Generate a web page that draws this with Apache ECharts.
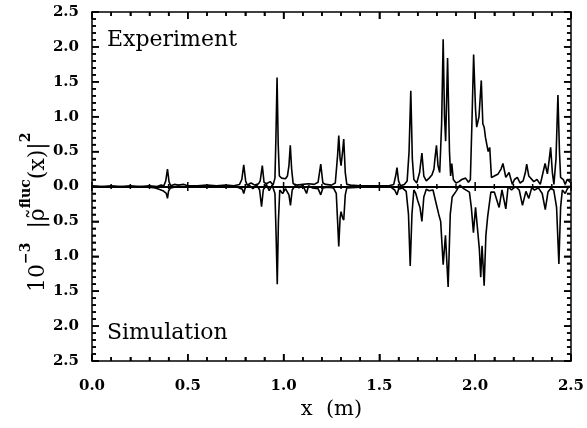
<!DOCTYPE html>
<html>
<head>
<meta charset="utf-8">
<script src="https://cdn.jsdelivr.net/npm/echarts@6/dist/echarts.min.js"></script>
<style>html,body{margin:0;padding:0;background:#fff}#c{width:587px;height:428px}</style>
</head>
<body>
<div id="c"></div>
<script>
// Experiment curve (upper half)
const expX = [0.00,0.05,0.10,0.15,0.20,0.25,0.30,0.34,0.36,0.375,0.385,0.394,0.402,0.41,0.43,0.45,0.48,0.50,0.55,0.60,0.65,0.70,0.74,0.77,0.782,0.792,0.802,0.81,0.83,0.85,0.87,0.878,0.889,0.898,0.91,0.93,0.945,0.955,0.960,0.966,0.972,0.978,0.99,1.00,1.01,1.02,1.028,1.035,1.042,1.05,1.07,1.10,1.13,1.16,1.18,1.194,1.205,1.22,1.25,1.27,1.282,1.288,1.295,1.30,1.308,1.314,1.322,1.33,1.35,1.40,1.45,1.50,1.55,1.575,1.585,1.592,1.60,1.61,1.63,1.645,1.655,1.664,1.672,1.68,1.695,1.71,1.722,1.732,1.745,1.76,1.775,1.785,1.79,1.798,1.806,1.815,1.825,1.833,1.84,1.846,1.856,1.866,1.872,1.878,1.886,1.90,1.915,1.93,1.95,1.965,1.975,1.983,1.992,2.002,2.008,2.02,2.032,2.04,2.047,2.054,2.06,2.068,2.076,2.085,2.10,2.12,2.135,2.145,2.16,2.177,2.194,2.205,2.22,2.235,2.25,2.262,2.269,2.28,2.29,2.306,2.323,2.34,2.35,2.365,2.377,2.385,2.394,2.403,2.411,2.422,2.432,2.44,2.446,2.46,2.47,2.48,2.49,2.50];
const expY = [0.01,0.00,0.01,0.00,0.01,0.00,0.01,0.00,0.02,0.01,0.08,0.25,0.07,0.01,0.03,0.02,0.03,0.01,0.01,0.02,0.01,0.02,0.01,0.03,0.10,0.31,0.08,0.02,0.05,0.02,0.04,0.08,0.30,0.06,0.04,0.07,0.02,0.12,0.70,1.56,0.60,0.15,0.12,0.14,0.11,0.15,0.30,0.59,0.25,0.04,0.02,0.03,0.04,0.03,0.06,0.32,0.05,0.03,0.02,0.05,0.45,0.73,0.40,0.30,0.50,0.68,0.20,0.03,0.02,0.01,0.01,0.01,0.01,0.03,0.15,0.27,0.08,0.01,0.03,0.08,0.50,1.37,0.40,0.10,0.05,0.20,0.48,0.15,0.08,0.12,0.17,0.25,0.40,0.59,0.30,0.20,0.90,2.11,1.00,0.65,1.84,0.50,0.15,0.33,0.10,0.05,0.07,0.10,0.12,0.06,0.10,0.90,1.89,1.10,0.85,1.00,1.52,0.90,0.85,0.70,0.72,0.50,0.56,0.13,0.15,0.18,0.25,0.33,0.13,0.20,0.03,0.10,0.13,0.05,0.08,0.20,0.32,0.15,0.13,0.07,0.10,0.03,0.15,0.33,0.18,0.35,0.56,0.20,0.03,0.40,1.31,0.50,0.13,0.10,0.03,0.10,0.08,0.05];
// Simulation curve (lower half, plotted negative)
const simX = [0.00,0.05,0.10,0.15,0.20,0.25,0.30,0.33,0.35,0.37,0.38,0.388,0.394,0.40,0.41,0.43,0.50,0.60,0.70,0.76,0.785,0.792,0.80,0.82,0.84,0.86,0.875,0.885,0.894,0.91,0.925,0.94,0.955,0.961,0.967,0.973,0.98,0.995,1.01,1.028,1.036,1.045,1.06,1.08,1.10,1.12,1.13,1.15,1.18,1.194,1.205,1.23,1.26,1.275,1.282,1.288,1.295,1.30,1.308,1.314,1.322,1.33,1.40,1.50,1.56,1.58,1.592,1.60,1.62,1.64,1.652,1.661,1.67,1.68,1.69,1.70,1.712,1.722,1.732,1.745,1.76,1.78,1.797,1.81,1.82,1.833,1.845,1.859,1.87,1.88,1.90,1.92,1.94,1.97,1.98,1.991,2.002,2.012,2.022,2.029,2.036,2.047,2.056,2.065,2.072,2.082,2.10,2.125,2.14,2.16,2.172,2.19,2.21,2.23,2.247,2.265,2.28,2.295,2.31,2.33,2.35,2.366,2.38,2.394,2.41,2.425,2.437,2.446,2.455,2.47,2.48,2.49,2.50];
const simY = [-0.01,0.00,-0.01,0.00,-0.01,0.00,-0.01,-0.02,-0.04,-0.06,-0.05,-0.10,-0.17,-0.06,-0.02,-0.01,0.00,-0.01,0.00,-0.01,-0.04,-0.10,-0.02,0.02,-0.03,0.02,-0.05,-0.29,-0.05,0.03,-0.06,0.02,-0.10,-0.70,-1.40,-0.50,-0.05,-0.10,-0.03,-0.12,-0.27,-0.05,0.01,-0.02,0.02,-0.10,0.01,-0.02,-0.03,-0.12,-0.02,-0.01,-0.02,-0.10,-0.50,-0.86,-0.45,-0.36,-0.45,-0.48,-0.12,-0.02,-0.01,0.00,-0.01,-0.05,-0.12,-0.04,-0.02,-0.07,-0.40,-1.14,-0.40,-0.05,-0.10,-0.20,-0.30,-0.50,-0.15,-0.04,-0.06,-0.05,-0.25,-0.40,-0.50,-1.12,-0.70,-1.44,-0.40,-0.15,-0.07,0.02,-0.03,-0.08,-0.30,-0.66,-0.30,-0.30,-0.90,-1.30,-0.85,-1.42,-0.70,-0.44,-0.44,-0.08,-0.08,-0.30,-0.05,-0.32,0.00,-0.05,0.00,-0.05,-0.27,-0.07,-0.17,-0.02,-0.05,-0.02,-0.10,-0.33,-0.08,-0.03,-0.05,-0.30,-1.11,-0.30,-0.05,-0.10,-0.04,0.00,-0.02];
const xTicks = [0.0, 0.5, 1.0, 1.5, 2.0, 2.5];
const yTicks = [-2.5,-2.0,-1.5,-1.0,-0.5,0.0,0.5,1.0,1.5,2.0,2.5];

const FONT = '"DejaVu Serif", "Liberation Serif", serif';
const LINE = '#000000';
const xMin = xTicks[0], xMax = xTicks[xTicks.length - 1];
const yMin = yTicks[0], yMax = yTicks[yTicks.length - 1];
const expData = expX.map((x, i) => [x, expY[i]]);
const simData = simX.map((x, i) => [x, simY[i]]);

// tick values: majors from the tick arrays, 4 minors between each pair
function tickValues(ticks) {
  const out = [];
  for (let i = 0; i < ticks.length - 1; i++) {
    for (let k = 0; k < 5; k++) {
      out.push({ v: +(ticks[i] + (ticks[i + 1] - ticks[i]) * k / 5).toFixed(3), major: k === 0 });
    }
  }
  out.push({ v: ticks[ticks.length - 1], major: true });
  return out;
}

function frameAxis(pos, isY, lab) {
  const o = {
    type: 'value', min: isY ? yMin : xMin, max: isY ? yMax : xMax,
    interval: 0.5, position: pos,
    axisLine: { show: true, onZero: false, lineStyle: { color: LINE, width: 1.5 } },
    axisTick: { show: true, inside: true, length: 7, lineStyle: { color: LINE, width: 1.5 } },
    minorTick: { show: true, splitNumber: 5, length: 4, lineStyle: { color: LINE, width: 1.5 } },
    splitLine: { show: false }
  };
  o.axisLabel = lab
    ? { show: true, margin: isY ? 13 : 18, color: LINE, fontFamily: FONT, fontSize: 15, fontWeight: 'bold',
        formatter: v => Math.abs(v).toFixed(1) }
    : { show: false };
  return o;
}
const zeroAxis = {
  type: 'value', min: xMin, max: xMax, interval: 0.5, position: 'bottom',
  axisLine: { show: true, onZero: true, onZeroAxisIndex: 0, lineStyle: { color: LINE, width: 2 } },
  axisTick: { show: false }, axisLabel: { show: false }, splitLine: { show: false }
};

const xa0 = frameAxis('bottom', false, true);
xa0.name = 'x  (m)';
xa0.nameLocation = 'middle';
xa0.nameGap = 34;
xa0.nameTextStyle = { color: LINE, fontFamily: FONT, fontSize: 21 };

const textGraphics = [
  { id: 't1', type: 'text', left: 107, top: 29, style: { text: 'Experiment', font: '22px ' + FONT, fill: LINE } },
  { id: 't2', type: 'text', left: 107, top: 322, style: { text: 'Simulation', font: '22px ' + FONT, fill: LINE } },
  { id: 't3', type: 'text', x: 19, y: 292, rotation: Math.PI / 2,
    style: {
      text: '{a|10}{s|−3}{a|  |}{a|ρ̃}{s|fluc}{a|(x)|}{s|2}',
      fill: LINE,
      rich: {
        a: { fontFamily: FONT, fontSize: 22, fill: LINE, lineHeight: 30, verticalAlign: 'bottom' },
        s: { fontFamily: FONT, fontSize: 14, fill: LINE, fontWeight: 'bold', lineHeight: 30, verticalAlign: 'top' }
      }
    } }
];

const chart = echarts.init(document.getElementById('c'));
chart.setOption({
  animation: false,
  grid: { left: 92, right: 15, top: 12, bottom: 67 },
  xAxis: [xa0, frameAxis('top', false, false), zeroAxis],
  yAxis: [frameAxis('left', true, true), frameAxis('right', true, false)],
  series: [
    { name: 'Experiment', type: 'line', xAxisIndex: 0, yAxisIndex: 0, data: expData, showSymbol: false,
      lineStyle: { color: LINE, width: 1.6 } },
    { name: 'Simulation', type: 'line', xAxisIndex: 0, yAxisIndex: 0, data: simData, showSymbol: false,
      lineStyle: { color: LINE, width: 1.6 } }
  ]
});

// tick marks placed through the chart's own coordinate conversion
const tickGraphics = [];
const tstyle = { stroke: LINE, lineWidth: 1.5 };
let n = 0;
function conv(p) { return chart.convertToPixel({ gridIndex: 0 }, p); }
tickValues(xTicks).forEach(t => {
  const L = t.major ? 7 : 4, Z = t.major ? 4.5 : 2.5;
  const b = conv([t.v, yMin]), tp = conv([t.v, yMax]), z = conv([t.v, 0]);
  tickGraphics.push({ id: 'k' + (n++), type: 'line', z: 50, silent: true, shape: { x1: b[0], y1: b[1], x2: b[0], y2: b[1] - L }, style: tstyle });
  tickGraphics.push({ id: 'k' + (n++), type: 'line', z: 50, silent: true, shape: { x1: tp[0], y1: tp[1], x2: tp[0], y2: tp[1] + L }, style: tstyle });
  tickGraphics.push({ id: 'k' + (n++), type: 'line', z: 50, silent: true, shape: { x1: z[0], y1: z[1] - Z, x2: z[0], y2: z[1] + Z }, style: tstyle });
});
tickValues(yTicks).forEach(t => {
  const L = t.major ? 7 : 4;
  const l = conv([xMin, t.v]), r = conv([xMax, t.v]);
  tickGraphics.push({ id: 'k' + (n++), type: 'line', z: 50, silent: true, shape: { x1: l[0], y1: l[1], x2: l[0] + L, y2: l[1] }, style: tstyle });
  tickGraphics.push({ id: 'k' + (n++), type: 'line', z: 50, silent: true, shape: { x1: r[0], y1: r[1], x2: r[0] - L, y2: r[1] }, style: tstyle });
});
chart.setOption({ graphic: { elements: textGraphics.concat(tickGraphics) } });
</script>
</body>
</html>
